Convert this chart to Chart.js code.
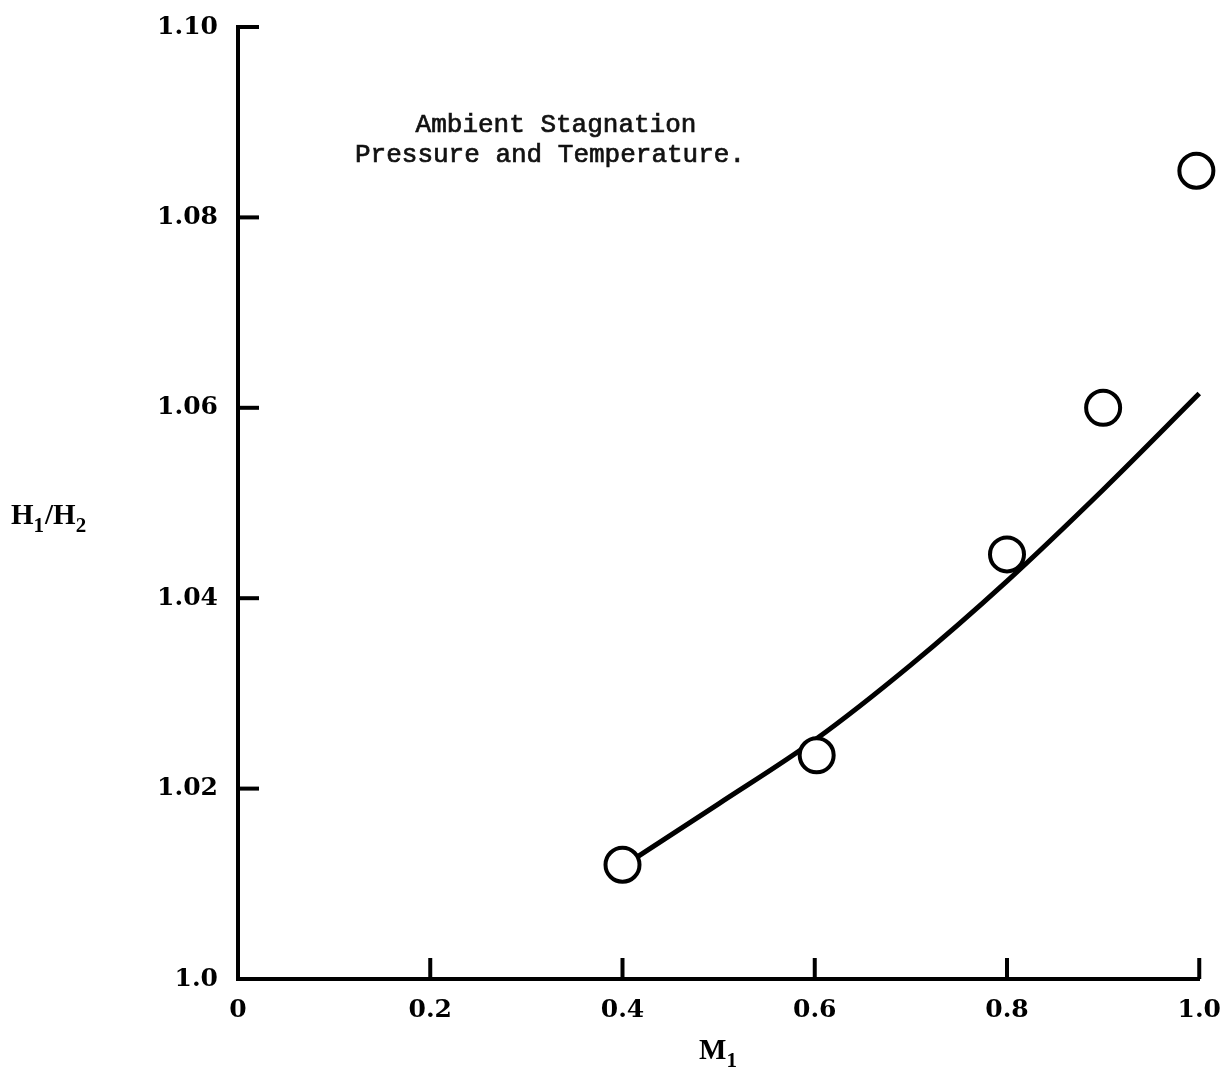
<!DOCTYPE html>
<html>
<head>
<meta charset="utf-8">
<script src="https://cdn.jsdelivr.net/npm/chart.js@4.4.1/dist/chart.umd.min.js"></script>
<style>
  html, body { margin: 0; padding: 0; background: #fff; }
  #wrap { width: 1229px; height: 1077px; }
</style>
</head>
<body>
<div id="wrap"><canvas id="c" width="1229" height="1077"></canvas></div>
<script>
// ---- Data ----
const xTickLabels = ['0', '0.2', '0.4', '0.6', '0.8', '1.0'];
const yTickLabels = ['1.0', '1.02', '1.04', '1.06', '1.08', '1.10'];

const measuredM1 = [0.400, 0.602, 0.800, 0.900, 0.997];
const measuredH  = [1.0120, 1.0235, 1.0446, 1.0600, 1.0849];

const curveM1 = [0.415, 0.500, 0.600, 0.700, 0.800, 0.900, 1.000];
const curveH  = [1.0128, 1.0184, 1.0251, 1.0330, 1.0418, 1.0514, 1.0615];

const annotationLines = ['Ambient Stagnation', 'Pressure and Temperature.'];
const yAxisTitle = ['H', '1', '/H', '2'];
const xAxisTitle = ['M', '1'];

const toPts = (xs, ys) => xs.map((v, i) => ({ x: v, y: ys[i] }));

const tickFont = { family: '"DejaVu Serif", "Liberation Serif", serif', size: 25, weight: 'bold' };

const decorPlugin = {
  id: 'decor',
  afterDraw(chart) {
    const { ctx, scales: { x, y } } = chart;
    ctx.save();
    ctx.strokeStyle = '#000';
    ctx.lineWidth = 4;
    ctx.lineCap = 'butt';
    // inward tick marks
    y.ticks.forEach(t => {
      if (t.value <= y.min + 1e-9) return;
      const py = y.getPixelForValue(t.value);
      ctx.beginPath();
      ctx.moveTo(x.left, py);
      ctx.lineTo(x.left + 21, py);
      ctx.stroke();
    });
    x.ticks.forEach(t => {
      if (t.value <= x.min + 1e-9) return;
      const px = x.getPixelForValue(t.value);
      ctx.beginPath();
      ctx.moveTo(px, y.bottom);
      ctx.lineTo(px, y.bottom - 21);
      ctx.stroke();
    });
    // annotation text
    ctx.fillStyle = '#111';
    ctx.strokeStyle = '#111';
    ctx.lineWidth = 0.7;
    ctx.font = '26px "Liberation Mono", "DejaVu Sans Mono", monospace';
    ctx.textAlign = 'center';
    ctx.textBaseline = 'alphabetic';
    ctx.fillText(annotationLines[0], 556, 132);
    ctx.strokeText(annotationLines[0], 556, 132);
    ctx.fillText(annotationLines[1], 550, 162);
    ctx.strokeText(annotationLines[1], 550, 162);

    // axis titles with subscripts
    const mainFont = 'bold 29px "Liberation Serif", serif';
    const subFont = 'bold 21px "Liberation Serif", serif';
    const drawSub = (parts, startX, baseY) => {
      let cx = startX;
      ctx.textAlign = 'left';
      parts.forEach((p, i) => {
        const sub = i % 2 === 1;
        ctx.font = sub ? subFont : mainFont;
        ctx.fillText(p, cx, sub ? baseY + 8 : baseY);
        cx += ctx.measureText(p).width + (sub ? 1 : 0);
      });
    };
    ctx.fillStyle = '#000';
    drawSub(yAxisTitle, 11, 524);
    ctx.font = mainFont;
    const w1 = ctx.measureText(xAxisTitle[0]).width;
    ctx.font = subFont;
    const w2 = ctx.measureText(xAxisTitle[1]).width;
    drawSub(xAxisTitle, 718 - (w1 + w2) / 2, 1059);
    ctx.restore();
  }
};

new Chart(document.getElementById('c'), {
  type: 'scatter',
  data: {
    datasets: [
      {
        label: 'measured',
        data: toPts(measuredM1, measuredH),
        pointRadius: 17,
        pointHoverRadius: 17,
        pointBorderWidth: 4,
        pointBorderColor: '#000',
        pointBackgroundColor: '#fff',
        showLine: false,
        clip: false,
        order: 0
      },
      {
        label: 'curve',
        data: toPts(curveM1, curveH),
        showLine: true,
        borderColor: '#000',
        borderWidth: 5,
        pointRadius: 0,
        cubicInterpolationMode: 'monotone',
        fill: false,
        clip: false,
        order: 1
      }
    ]
  },
  options: {
    responsive: false,
    animation: false,
    events: [],
    layout: { padding: { top: 12, right: 26, left: 0, bottom: 0 } },
    plugins: { legend: { display: false }, tooltip: { enabled: false } },
    scales: {
      x: {
        type: 'linear',
        min: 0, max: 1,
        ticks: {
          stepSize: 0.2,
          padding: 8,
          color: '#000',
          font: tickFont,
          callback: (v, i) => xTickLabels[i]
        },
        grid: { display: false },
        border: { display: true, width: 4, color: '#000' },
        afterFit: s => { s.height = 98; }
      },
      y: {
        type: 'linear',
        min: 1.0, max: 1.1,
        ticks: {
          stepSize: 0.02,
          padding: 12,
          color: '#000',
          font: tickFont,
          callback: (v, i) => yTickLabels[i]
        },
        grid: { display: false },
        border: { display: true, width: 4, color: '#000' },
        afterFit: s => { s.width = 238; }
      }
    }
  },
  plugins: [decorPlugin]
});
</script>
</body>
</html>
